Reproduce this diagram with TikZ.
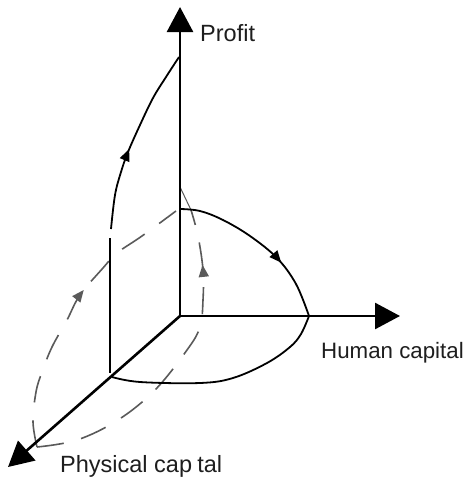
\documentclass[tikz,border=0pt]{standalone}
\usepackage{fontspec}
\setmainfont{Liberation Sans}
\usetikzlibrary{arrows.meta,decorations.markings}
\definecolor{dashgray}{HTML}{5A5A5A}
\definecolor{txt}{HTML}{1E1E1E}
\begin{document}
\begin{tikzpicture}[x=1pt,y=-1pt,
  axis/.style={line width=2.6pt,-{Triangle[length=25pt,width=26pt]}},
  solidcurve/.style={line width=1.8pt,black},
  dashcurve/.style={line width=1.6pt,dashgray,dash pattern=on 27pt off 18pt},
  lbl/.style={inner sep=0pt,text=txt,font=\fontsize{23.5}{27}\selectfont},
  midarrow/.style={postaction={decorate},decoration={markings,
     mark=at position #1 with {\arrow{Triangle[length=12pt,width=10pt]}}}},
  graymidarrow/.style={postaction={decorate},decoration={markings,
     mark=at position #1 with {\arrow[dashgray]{Triangle[length=12pt,width=10pt]}}}}
]
\useasboundingbox (0,0) rectangle (467,479);
\fill[white] (0,0) rectangle (467,479);

\coordinate (O) at (180,316);
\coordinate (P) at (180,7);
\coordinate (H) at (400,316);
\coordinate (K) at (8,467);

% dashed curves (gray)
\draw[dashcurve,graymidarrow=0.83] plot[smooth,tension=0.6] coordinates
  {(37,447) (77,440) (118,420) (155,390) (187,350) (200,327) (203,300) (203,270) (198,236) (191,210)};
\draw[dashcurve,graymidarrow=0.58] plot[smooth,tension=0.6] coordinates
  {(37,447) (33,422) (36,392) (42,372) (52,347) (67,320) (80,295) (103,268) (117,253) (142,236) (176,211)};
\draw[line width=1pt,dashgray] (180,187) -- (191,210);

% solid curves
\draw[solidcurve,midarrow=0.44] plot[smooth,tension=0.6] coordinates
  {(111,229) (115,195) (121,172) (128,152) (140,125) (153,98) (166,77) (179,57)};
\draw[solidcurve] (110,238) -- (110,373);
\draw[solidcurve,midarrow=0.66] plot[smooth,tension=0.6] coordinates
  {(180,209) (200,211) (223,220) (250,236) (277,258) (296,284) (309,316)};
\draw[solidcurve] plot[smooth,tension=0.6] coordinates
  {(112,377) (140,382) (200,383) (233,378) (267,363) (290,347) (301,334) (309,316)};

% axes
\draw[axis] (O) -- (P);
\draw[axis] (O) -- (H);
\draw[axis] (O) -- (K);

% labels
\node[lbl,anchor=base west] (lp) at (200,41) {Profit};
\node[lbl,anchor=base west,font=\fontsize{22.3}{26}\selectfont] (lh) at (321,358) {Human capital};
\node[lbl,anchor=base west] (lk) at (60,472) {Physical cap\phantom{i}tal};
\end{tikzpicture}
\end{document}
